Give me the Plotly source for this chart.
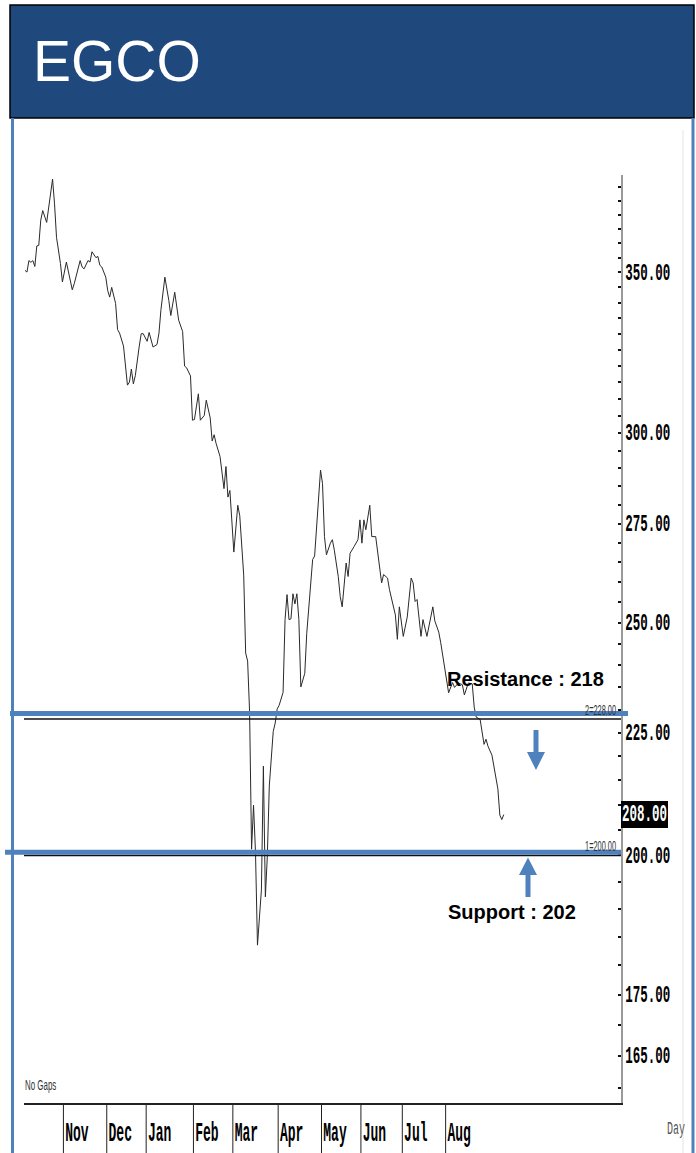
import math
import plotly.graph_objects as go

# ---------------- data ----------------
day = [0, 1, 2, 3, 4, 5, 6, 7, 8, 9, 11, 12, 14, 15, 16, 18, 19, 21, 23, 24, 25, 28, 29, 30,
       32, 33, 34, 36, 37, 38, 39, 41, 42, 43, 44, 46, 47, 48, 50, 51, 52, 53, 54, 55, 56, 58,
       59, 60, 62, 63, 64, 65, 67, 68, 69, 71, 73, 74, 76, 77, 78, 80, 81, 82, 84, 85, 86, 88,
       89, 91, 92, 94, 95, 96, 97, 99, 101, 102, 103, 104, 106, 108, 109, 111, 112, 113, 114,
       115, 116, 117, 118, 120, 121, 122, 123, 124, 126, 127, 128, 129, 131, 132, 133, 134,
       135, 136, 137, 138, 139, 140, 142, 143, 145, 146, 147, 148, 150, 151, 152, 153, 155,
       156, 157, 159, 160, 161, 162, 163, 164, 165, 167, 169, 170, 171, 172, 173, 175, 176,
       178, 179, 181, 182, 184, 185, 188, 189, 190, 192, 194, 196, 197, 198, 199, 201, 202,
       204, 206, 207, 208, 210, 211, 213, 215, 217, 218, 220, 222, 223, 225, 227, 228, 229,
       231, 233, 234, 235, 237, 240, 241, 242, 243]
price = [350.7, 350.1, 354.0, 353.4, 354.0, 352.0, 359.0, 359.2, 368.0, 371.4, 367.2, 372.5,
         382.8, 373.8, 362.0, 353.0, 346.8, 353.5, 347.3, 344.2, 346.2, 354.0, 351.8, 351.2,
         354.0, 353.5, 357.0, 355.0, 355.4, 352.4, 351.8, 348.4, 343.9, 341.8, 345.0, 339.7,
         331.3, 330.2, 326.1, 321.0, 314.1, 315.0, 319.0, 314.5, 317.0, 326.1, 330.0, 330.0,
         327.6, 330.4, 327.6, 325.8, 326.6, 330.2, 337.7, 348.4, 340.7, 335.8, 343.4, 338.5,
         334.3, 330.7, 319.9, 319.4, 316.9, 303.7, 303.9, 311.5, 303.7, 305.1, 309.6, 304.4,
         297.7, 299.5, 297.0, 293.3, 284.4, 290.5, 282.1, 283.9, 267.6, 279.9, 277.1, 261.8,
         242.9, 241.0, 229.5, 201.2, 209.9, 200.5, 183.5, 193.5, 217.9, 192.2, 199.9, 213.8,
         225.3, 227.1, 230.2, 231.0, 233.9, 250.8, 256.9, 250.8, 251.0, 257.1, 254.6, 257.1,
         250.8, 235.1, 238.2, 247.5, 260.6, 265.7, 266.6, 273.4, 289.5, 285.8, 271.6, 266.9,
         269.9, 270.8, 268.1, 261.4, 256.4, 253.9, 259.8, 264.8, 261.4, 267.3, 269.0, 270.8,
         276.0, 269.9, 276.0, 273.4, 279.9, 271.6, 271.6, 267.3, 259.8, 261.9, 261.0, 258.1,
         251.9, 246.1, 253.9, 246.8, 251.4, 261.0, 259.8, 255.2, 255.7, 246.8, 250.8, 246.8,
         251.4, 253.9, 250.5, 247.8, 245.3, 239.4, 233.8, 236.1, 235.0, 236.0, 235.6, 233.3,
         236.0, 235.8, 230.6, 228.4, 227.9, 222.5, 223.6, 222.1, 220.2, 213.2, 207.9, 207.0,
         208.0]

months = ["Nov", "Dec", "Jan", "Feb", "Mar", "Apr", "May", "Jun", "Jul", "Aug"]
month_start = [20, 42, 62, 86, 106, 129, 151, 171, 192, 214]

label_ticks = [165, 175, 200, 225, 250, 275, 300, 350]
minor_step = 5
y_low, y_high = 157.7, 384.3
x_low, x_high = -0.5, 302.5

resistance_level = 228.0
support_level = 200.0
resistance_band = 229.2
support_band = 200.6
last_price = 208.0
resistance_text = "Resistance : 218"
support_text = "Support : 202"
title = "EGCO"

# ---------------- layout geometry ----------------
W, H = 696, 1153
L, R, T, B = 24, 621, 175, 1103
DAY_PX = (R - L) / (x_high - x_low)
PX_PER_LOG = (B - T) / (math.log(y_high) - math.log(y_low))


def px(x):
    return (x - L) / (R - L)


def py(y):
    return (B - y) / (B - T)


BLUE = "#4F81BD"
NAVY = "#1F497D"
MONO = "Courier New, Liberation Mono, monospace"
SANS = "Arial, Liberation Sans, sans-serif"

fig = go.Figure()
fig.add_trace(go.Scatter(x=day, y=price, mode="lines",
                         line=dict(color="#2a2a2a", width=1), hoverinfo="skip",
                         showlegend=False))

tickvals = list(range(160, 385, minor_step))
ticktext = [f"{v:.2f}" if v in label_ticks else "" for v in tickvals]
label_offset_days = 13.5 / DAY_PX
month_label_pos = [m - 0.5 + label_offset_days for m in month_start]

fig.update_layout(
    width=W, height=H,
    margin=dict(l=L, r=W - R, t=T, b=H - B, pad=0),
    paper_bgcolor="white", plot_bgcolor="white",
    showlegend=False,
    xaxis=dict(range=[x_low, x_high], showgrid=False, zeroline=False,
               tickvals=month_label_pos, ticktext=months, ticks="",
               ticklabelstandoff=17,
               tickfont=dict(family=MONO, size=13, color="black", weight="bold"),
               showline=True, linecolor="#222222", linewidth=2),
    yaxis=dict(type="log", range=[math.log10(y_low), math.log10(y_high)],
               side="right", showgrid=False, zeroline=False,
               tickvals=tickvals, ticktext=ticktext,
               ticks="inside", ticklen=3, tickwidth=2, tickcolor="#111111",
               showline=True, linecolor="#9a9a9a", linewidth=1.5,
               tickfont=dict(family=MONO, size=12.5, color="black", weight="bold")),
)

shapes = []
# title bar
shapes.append(dict(type="rect", xref="paper", yref="paper",
                   x0=px(10), x1=px(694), y0=py(118), y1=py(5),
                   fillcolor=NAVY, line=dict(color="black", width=1.5), layer="above"))
# frame blue lines
shapes.append(dict(type="line", xref="paper", yref="paper",
                   x0=px(12.5), x1=px(12.5), y0=py(118), y1=py(1153),
                   line=dict(color=BLUE, width=3)))
shapes.append(dict(type="line", xref="paper", yref="paper",
                   x0=px(693), x1=px(693), y0=py(118), y1=py(1153),
                   line=dict(color=BLUE, width=3)))
shapes.append(dict(type="line", xref="paper", yref="paper",
                   x0=px(683), x1=px(683), y0=py(130), y1=py(1153),
                   line=dict(color="#e4e4e4", width=1)))
# level lines (black) and highlight bands (blue)
for lvl in (resistance_level, support_level):
    shapes.append(dict(type="line", xref="paper", yref="y", x0=0, x1=1,
                       y0=lvl, y1=lvl, line=dict(color="#111111", width=1.5)))
shapes.append(dict(type="line", xref="paper", yref="y", x0=px(10), x1=px(628),
                   y0=resistance_band, y1=resistance_band,
                   line=dict(color=BLUE, width=5)))
shapes.append(dict(type="line", xref="paper", yref="y", x0=px(5), x1=px(621),
                   y0=support_band, y1=support_band,
                   line=dict(color=BLUE, width=5)))
# last price box
box_half = math.exp(13.5 / PX_PER_LOG)
shapes.append(dict(type="rect", xref="paper", yref="y", x0=1.0, x1=px(668),
                   y0=last_price / box_half, y1=last_price * box_half,
                   fillcolor="black", line=dict(width=0)))


def poly(points):
    return "M " + " L ".join(f"{px(x):.5f},{py(y):.5f}" for x, y in points) + " Z"


down_arrow = [(533.5, 730), (538.5, 730), (538.5, 752), (545, 752), (536, 770),
              (527, 752), (533.5, 752)]
up_arrow = [(525.5, 897), (530.5, 897), (530.5, 875), (537, 875), (528, 857.5),
            (519, 875), (525.5, 875)]
for pts in (down_arrow, up_arrow):
    shapes.append(dict(type="path", xref="paper", yref="paper", path=poly(pts),
                       fillcolor=BLUE, line=dict(color=BLUE, width=0)))
# month separators
for m in month_start:
    shapes.append(dict(type="line", xref="x", yref="paper", x0=m - 0.5, x1=m - 0.5,
                       y0=py(1103), y1=py(1153), line=dict(color="#222222", width=1)))
fig.update_layout(shapes=shapes)

ann = []
ann.append(dict(text=title, xref="paper", yref="paper", x=px(31), y=py(61),
                xanchor="left", yanchor="middle", showarrow=False,
                font=dict(family=SANS, size=57, color="white")))
ann.append(dict(text="Day", xref="paper", yref="paper", x=px(676), y=py(1129),
                xanchor="center", yanchor="middle", showarrow=False,
                font=dict(family=MONO, size=10, color="#555555")))
ann.append(dict(text="No Gaps", xref="paper", yref="paper", x=px(23), y=py(1085),
                xanchor="left", yanchor="middle", showarrow=False,
                font=dict(family=SANS, size=11, color="#333333")))
ann.append(dict(text=f"{last_price:.2f}", xref="paper", yref="y", x=px(644.5),
                y=math.log10(last_price), xanchor="center", yanchor="middle",
                showarrow=False,
                font=dict(family=MONO, size=12.5, color="white", weight="bold")))
ann.append(dict(text=f"2={resistance_level:.2f}", xref="paper", yref="y", x=px(618),
                y=math.log10(resistance_level), xanchor="right", yanchor="bottom",
                yshift=2, showarrow=False,
                font=dict(family=SANS, size=10, color="#333333")))
ann.append(dict(text=f"1={support_level:.2f}", xref="paper", yref="y", x=px(618),
                y=math.log10(support_level), xanchor="right", yanchor="bottom",
                yshift=2, showarrow=False,
                font=dict(family=SANS, size=10, color="#333333")))
ann.append(dict(text=f"<b>{resistance_text}</b>", xref="paper", yref="paper",
                x=px(525), y=py(679), xanchor="center", yanchor="middle",
                showarrow=False, font=dict(family=SANS, size=20, color="black")))
ann.append(dict(text=f"<b>{support_text}</b>", xref="paper", yref="paper",
                x=px(512), y=py(912), xanchor="center", yanchor="middle",
                showarrow=False, font=dict(family=SANS, size=20, color="black")))
fig.update_layout(annotations=ann)

# The reference uses tall, condensed chart-software lettering; stretch those labels.
post = """
document.body.style.margin='0';document.body.style.padding='0';
(function(){
  var special = {'Day':[1,1.9,0.5], 'No Gaps':[0.72,1.35,0], '208.00':[1,1.9,0.5],
                 '2=228.00':[0.74,1.45,1], '1=200.00':[0.74,1.45,1]};
  function params(t){
    var g = t.parentNode;
    if (g && g.classList && g.classList.contains('ytick')) return [1,1.95,0];
    if (g && g.classList && g.classList.contains('xtick')) return [1,2.1,0.5];
    if (t.classList.contains('annotation-text') && special[t.textContent]) return special[t.textContent];
    return null;
  }
  function fix(){
    document.querySelectorAll('text').forEach(function(t){
      var p = params(t); if(!p) return;
      var cur = t.getAttribute('transform') || '';
      if (t.__st !== undefined && cur === t.__st) return;
      var b; try { b = t.getBBox(); } catch(e) { return; }
      if (!b || !b.width) return;
      var ox = b.x + b.width * p[2], oy = b.y + b.height / 2;
      var nt = cur + ' translate(' + ox + ',' + oy + ') scale(' + p[0] + ',' + p[1] + ') translate(' + (-ox) + ',' + (-oy) + ')';
      t.setAttribute('transform', nt);
      t.__st = nt;
    });
  }
  fix();
  var gd = document.getElementById('{plot_id}');
  if (gd && gd.on) gd.on('plotly_afterplot', fix);
  setTimeout(fix, 50); setTimeout(fix, 300);
})();
"""

fig.write_html("out.html", post_script=post, config={"displayModeBar": False})
